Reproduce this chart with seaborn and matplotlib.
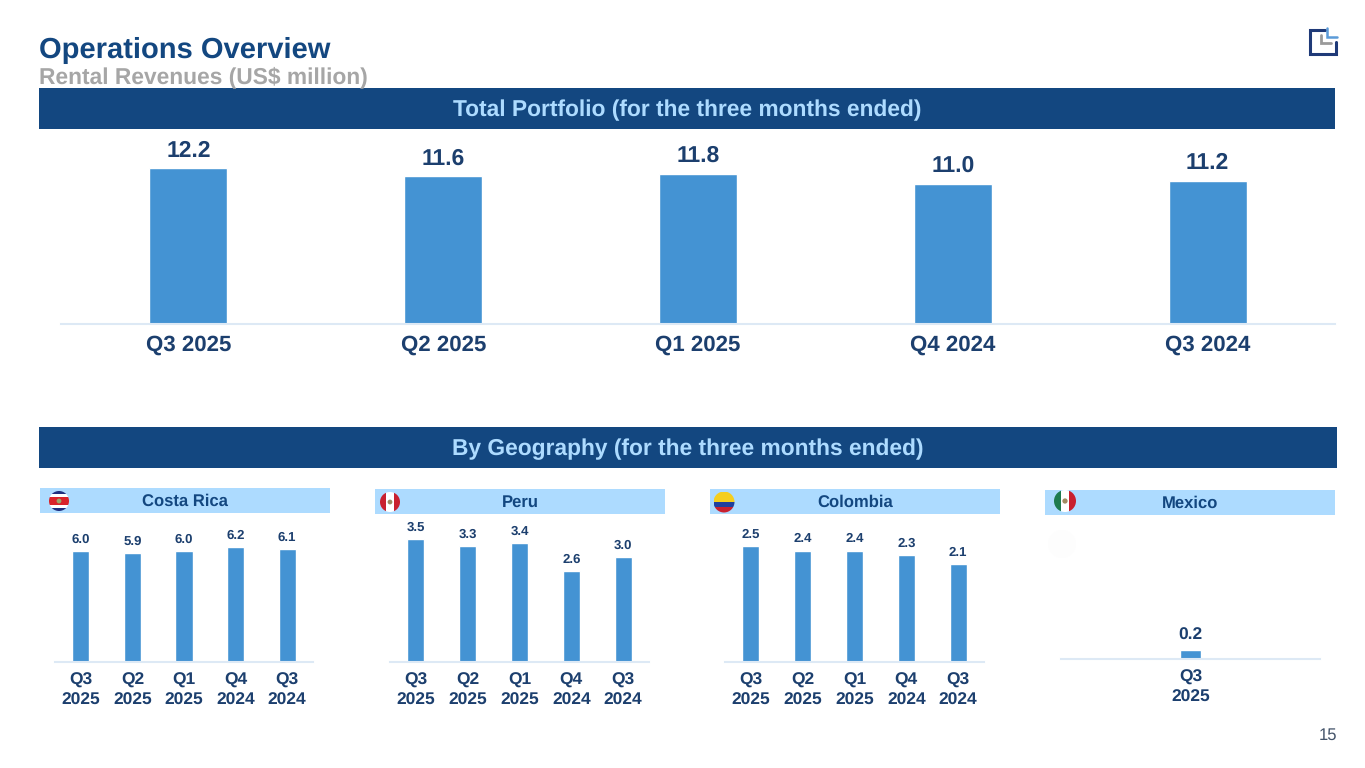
import pandas as pd
import matplotlib.pyplot as plt
from matplotlib.patches import Rectangle, Circle
import seaborn as sns

# === DATA ===
total_quarters = ['Q3 2025', 'Q2 2025', 'Q1 2025', 'Q4 2024', 'Q3 2024']
total_values = [12.2, 11.6, 11.8, 11.0, 11.2]

geo_quarters = ['Q3\n2025', 'Q2\n2025', 'Q1\n2025', 'Q4\n2024', 'Q3\n2024']
costa_rica = [6.0, 5.9, 6.0, 6.2, 6.1]
peru = [3.5, 3.3, 3.4, 2.6, 3.0]
colombia = [2.5, 2.4, 2.4, 2.3, 2.1]
mexico_quarters = ['Q3\n2025']
mexico = [0.2]

NAVY = '#134780'
DARK = '#1C3F6E'
BAR = '#4493D3'
LIGHT = '#ADDBFF'
AXIS_LINE = '#DDE9F5'
W, H = 1365, 768

sns.set_theme(style='white')
plt.rcParams['font.family'] = ['Liberation Sans', 'DejaVu Sans']
plt.rcParams['text.hinting'] = 'none'

fig = plt.figure(figsize=(W / 100, H / 100), dpi=100, facecolor='white')

# full slide overlay in pixel coordinates for banners and flags
bg = fig.add_axes([0, 0, 1, 1], zorder=0)
bg.set_xlim(0, W)
bg.set_ylim(H, 0)
bg.axis('off')


def px_axes(left, right, top, bottom):
    return fig.add_axes([left / W, 1 - bottom / H, (right - left) / W, (bottom - top) / H],
                        facecolor='none', zorder=2)


def bar_panel(cats, vals, left, right, top, bottom, ymax, width, lab_size, tick_size, lab_pad, tick_pad):
    ax = px_axes(left, right, top, bottom)
    df = pd.DataFrame({'quarter': cats, 'value': vals})
    sns.barplot(data=df, x='quarter', y='value', color=BAR, saturation=1, width=width, ax=ax)
    ax.set_ylim(0, ymax)
    ax.set_xlim(-0.5, len(cats) - 0.5)
    ax.set_xlabel('')
    ax.set_ylabel('')
    ax.set_yticks([])
    sns.despine(ax=ax, left=True)
    ax.spines['bottom'].set_color(AXIS_LINE)
    ax.spines['bottom'].set_linewidth(1.5)
    ax.tick_params(axis='x', length=0, pad=tick_pad)
    for t in ax.get_xticklabels():
        t.set_fontsize(tick_size)
        t.set_fontweight('bold')
        t.set_color(DARK)
        t.set_linespacing(1.3)
    ax.bar_label(ax.containers[0], fmt='%.1f', padding=lab_pad, fontsize=lab_size,
                 fontweight='bold', color=DARK)
    return ax


def banner(left, right, top, bottom, color, label, text_color, size, cx=None, dy=1):
    bg.add_patch(Rectangle((left, top), right - left, bottom - top, color=color, lw=0))
    x = (left + right) / 2 if cx is None else cx
    bg.text(x, (top + bottom) / 2 + dy, label, color=text_color, fontsize=size,
            fontweight='bold', ha='center', va='center')


def flag(cx, cy, r, stripes, vertical=False, crest=None):
    # stripes: (fraction, colour) from top to bottom or left to right
    clip = Circle((cx, cy), r, transform=bg.transData)
    pos = -r
    for frac, col in stripes:
        size = 2 * r * frac
        if vertical:
            patch = Rectangle((cx + pos, cy - r), size, 2 * r, color=col, lw=0, zorder=3)
        else:
            patch = Rectangle((cx - r, cy + pos), 2 * r, size, color=col, lw=0, zorder=3)
        bg.add_patch(patch)
        patch.set_clip_path(clip)
        pos += size
    if crest:
        bg.add_patch(Circle((cx, cy), r * 0.24, color=crest, lw=0, zorder=4))


# === TITLES ===
bg.text(39, 50, 'Operations Overview', color=NAVY, fontsize=21, fontweight='bold', va='center')
bg.text(39, 77, 'Rental Revenues (US$ million)', color='#A6A6A6', fontsize=16.4, fontweight='bold', va='center')
bg.text(1337, 735, '15', color='#44546A', fontsize=12, ha='right', va='center')

# logo
bg.plot([1325, 1310, 1310, 1336, 1336], [30, 30, 54, 54, 42], color='#1F3A78', lw=2.2, solid_joinstyle='miter')
bg.plot([1327, 1327, 1337], [28, 37, 37], color='#5B9BD8', lw=1.8, solid_joinstyle='miter')
bg.plot([1321, 1321, 1331], [35, 43, 43], color='#9A9A9A', lw=2, solid_joinstyle='miter')

# === BANNERS ===
banner(39, 1335, 88, 129, NAVY, 'Total Portfolio (for the three months ended)', LIGHT, 16.4, cx=687, dy=2)
banner(39, 1337, 427, 468, NAVY, 'By Geography (for the three months ended)', LIGHT, 16.4, cx=688, dy=2)
banner(40, 330, 488, 513, LIGHT, 'Costa Rica', NAVY, 12, cx=185)
banner(375, 665, 489, 514, LIGHT, 'Peru', NAVY, 12, cx=520)
banner(710, 1000, 489, 514, LIGHT, 'Colombia', NAVY, 12, cx=855)
banner(1045, 1335, 490, 515, LIGHT, 'Mexico', NAVY, 12, cx=1190)

flag(59, 501, 10, [(0.16, '#1F2F7F'), (0.16, 'white'), (0.36, '#D8232A'), (0.16, 'white'), (0.16, '#1F2F7F')], crest='#9AA86A')
flag(390, 502, 10, [(0.3, '#C8202F'), (0.4, 'white'), (0.3, '#C8202F')], vertical=True, crest='#9A8A60')
flag(724, 502, 10.5, [(0.5, '#F5CE1E'), (0.25, '#1F3F9E'), (0.25, '#C8202F')])
flag(1065, 501, 11, [(0.33, '#1E7B4F'), (0.34, 'white'), (0.33, '#C8202F')], vertical=True, crest='#A08A60')
# faint ghost circle under the Mexico banner
bg.add_patch(Circle((1062, 544), 14, color='#FDFDFD', lw=0))

# === CHARTS ===
bar_panel(total_quarters, total_values, 61, 1335, 130, 324, 194 / 12.75, 0.306, 16.5, 16, 5, 8)
bar_panel(geo_quarters, costa_rica, 55, 313, 520, 661.5, 141.5 / 18.4, 0.33, 9.5, 12.5, 4, 8)
bar_panel(geo_quarters, peru, 390, 649, 520, 661.5, 141.5 / 34.9, 0.33, 9.5, 12.5, 4, 8)
bar_panel(geo_quarters, colombia, 725, 984, 520, 661.5, 141.5 / 46.2, 0.33, 9.5, 12.5, 4, 8)
bar_panel(mexico_quarters, mexico, 1061, 1320, 520, 658.5, 138.5 / 42.0, 0.081, 12.5, 12.5, 5, 8)

fig.savefig('out.png', dpi=100)
